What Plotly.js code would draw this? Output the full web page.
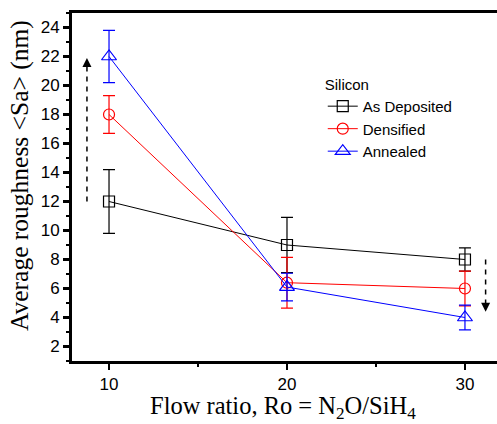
<!DOCTYPE html>
<html>
<head>
<meta charset="utf-8">
<script src="https://cdn.plot.ly/plotly-3.0.1.min.js"></script>
<style>html,body{margin:0;padding:0;overflow:hidden;background:#fff}</style>
</head>
<body>
<div id="chart" style="width:497px;height:424px"></div>
<script>
const flowRatio = [10, 20, 30];
const seriesNames = ['As Deposited', 'Densified', 'Annealed'];
const asDeposited = [12.0, 9.0, 8.0];
const asDepositedErr = [2.2, 1.9, 0.8];
const densified = [18.0, 6.4, 6.0];
const densifiedErr = [1.3, 1.75, 1.2];
const annealed = [22.0, 6.1, 4.0];
const annealedErr = [1.8, 0.95, 0.85];
const yTicks = [2, 4, 6, 8, 10, 12, 14, 16, 18, 20, 22, 24];
const xTicks = [10, 20, 30];
const xTitle = 'Flow ratio, Ro = N<sub>2</sub>O/SiH<sub>4</sub>';
const yTitle = 'Average roughness &lt;Sa&gt; (nm)';
const legendTitle = 'Silicon';
// trend arrows: [x, yStart, yEnd]
const arrowUp = [8.76, 12.0, 21.9];
const arrowDown = [31.16, 8.0, 4.4];

const colors = ['#000000', '#ff0000', '#0000ff'];
const symbols = ['square-open', 'circle-open', 'triangle-up-open'];
const values = [asDeposited, densified, annealed];
const errs = [asDepositedErr, densifiedErr, annealedErr];

const traces = values.map((v, i) => ({
  x: flowRatio, y: v, name: seriesNames[i], type: 'scatter', mode: 'lines+markers',
  line: {color: colors[i], width: 1},
  marker: {symbol: symbols[i], size: i === 2 ? 13 : 11, color: colors[i], line: {width: 1.2, color: colors[i]}},
  error_y: {type: 'data', array: errs[i], visible: true, color: colors[i], thickness: 1.2, width: 6},
  cliponaxis: false
}));

function arrow(a) {
  return [
    {type: 'line', xref: 'x', yref: 'y', x0: a[0], x1: a[0], y0: a[1], y1: a[2] - (a[2] > a[1] ? 0.3 : -0.3),
     line: {color: '#000', width: 1.5, dash: '5px,5px'}},
  ];
}
function head(a) {
  const dir = a[2] > a[1] ? 1 : -1;
  return {x: a[0], y: a[2], xref: 'x', yref: 'y', ax: a[0], ay: a[2] - dir * 0.6, axref: 'x', ayref: 'y',
    showarrow: true, arrowhead: 2, arrowsize: 1.2, arrowwidth: 1.5, arrowcolor: '#000', text: ''};
}
const serif = 'Liberation Serif, Times New Roman, serif';

const layout = {
  width: 497, height: 424,
  margin: {l: 72, r: 0, t: 13, b: 63},
  paper_bgcolor: '#fff', plot_bgcolor: '#fff',
  font: {family: 'Liberation Sans, Arial, sans-serif', color: '#000', size: 17},
  showlegend: true,
  legend: {x: 0.59, y: 0.835, xanchor: 'left', yanchor: 'top', bgcolor: 'rgba(0,0,0,0)',
    font: {size: 15, family: 'Liberation Sans, Arial, sans-serif'}, tracegroupgap: 0,
    title: {text: legendTitle, font: {size: 15}}},
  xaxis: {
    range: [7.92, 31.8], tickvals: xTicks, ticktext: xTicks.map(String),
    showgrid: false, zeroline: false, showline: true, linecolor: '#000', linewidth: 3,
    ticks: 'outside', ticklen: 6, tickwidth: 2.5, tickcolor: '#000', mirror: true,
    minor: {dtick: 5, ticks: 'outside', ticklen: 3, tickwidth: 2, tickcolor: '#000'},
    tickfont: {size: 17}
  },
  yaxis: {
    range: [1, 25], tickvals: yTicks, ticktext: yTicks.map(String),
    showgrid: false, zeroline: false, showline: true, linecolor: '#000', linewidth: 3,
    ticks: 'outside', ticklen: 6, tickwidth: 2.5, tickcolor: '#000', mirror: false,
    minor: {dtick: 1, ticks: 'outside', ticklen: 3, tickwidth: 2, tickcolor: '#000'},
    tickfont: {size: 17}
  },
  shapes: [...arrow(arrowUp), ...arrow(arrowDown)],
  annotations: [head(arrowUp), head(arrowDown),
    {text: yTitle, xref: 'paper', yref: 'paper', x: -0.122, y: 0.532, xanchor: 'center', yanchor: 'middle',
     textangle: -90, showarrow: false, font: {family: serif, size: 25.5}},
    {text: xTitle, xref: 'paper', yref: 'paper', x: 0.497, y: -0.134, xanchor: 'center', yanchor: 'middle',
     showarrow: false, font: {family: serif, size: 24.5}}
  ]
};

Plotly.newPlot('chart', traces, layout, {displayModeBar: false, staticPlot: true});
</script>
</body>
</html>
